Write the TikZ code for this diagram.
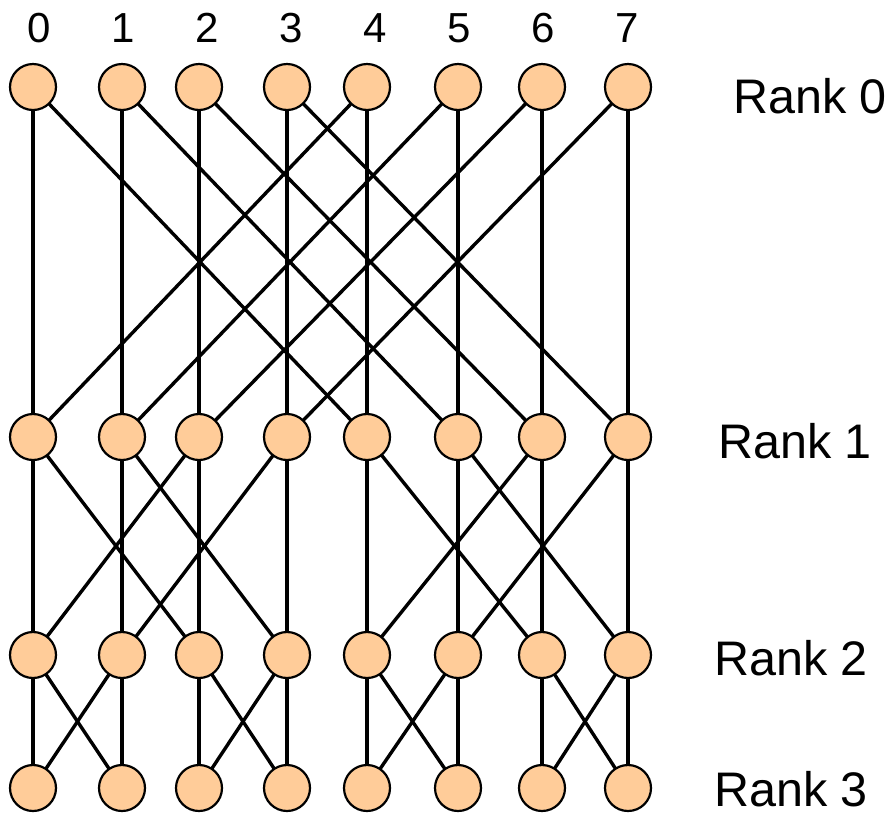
\documentclass[tikz,border=0pt]{standalone}
\usepackage{fontspec}
\setmainfont{Liberation Sans}
\definecolor{peach}{RGB}{255,204,153}
\pgfdeclarelayer{background}
\pgfsetlayers{background,main}
\begin{document}
\begin{tikzpicture}[x=1pt,y=-1pt,
  proc/.style={circle,draw=black,line width=2.2pt,fill=peach,minimum size=46pt,inner sep=0pt},
  link/.style={line width=3.4pt},
  digit/.style={font=\fontsize{42}{50}\selectfont,anchor=base,inner sep=0pt},
  ranklbl/.style={font=\fontsize{48.5}{58}\selectfont,anchor=base west,inner sep=0pt,text depth=0pt}]
\useasboundingbox (0,0) rectangle (893,815);

% processes: 8 columns, 4 ranks
\foreach \x [count=\i from 0] in {33,122,199,287,367,458,542,628} {
  \foreach \y [count=\r from 0] in {87,437,655,788} {
    \node[proc] (n\r-\i) at (\x,\y) {};
  }
}

% column indices
\foreach \i in {0,...,7} {
  \pgfmathsetmacro\dx{39+84*\i}
  \node[digit] (d\i) at (\dx,42) {\i};
}

% rank labels
\node[ranklbl] (r0) at (733,113) {Rank 0};
\node[ranklbl] (r1) at (718,458) {Rank 1};
\node[ranklbl] (r2) at (714,675) {Rank 2};
\node[ranklbl] (r3) at (714,806) {Rank 3};

% butterfly links: straight down and to the partner (i xor 4, 2, 1)
\begin{pgfonlayer}{background}
\foreach \r/\b in {0/4,1/2,2/1} {
  \pgfmathtruncatemacro\s{\r+1}
  \foreach \i in {0,...,7} {
    \pgfmathtruncatemacro\j{mod(floor(\i/\b),2)==0 ? \i+\b : \i-\b}
    \draw[link] (n\r-\i.center) -- (n\s-\i.center);
    \draw[link] (n\r-\i.center) -- (n\s-\j.center);
  }
}
\end{pgfonlayer}
\end{tikzpicture}
\end{document}
